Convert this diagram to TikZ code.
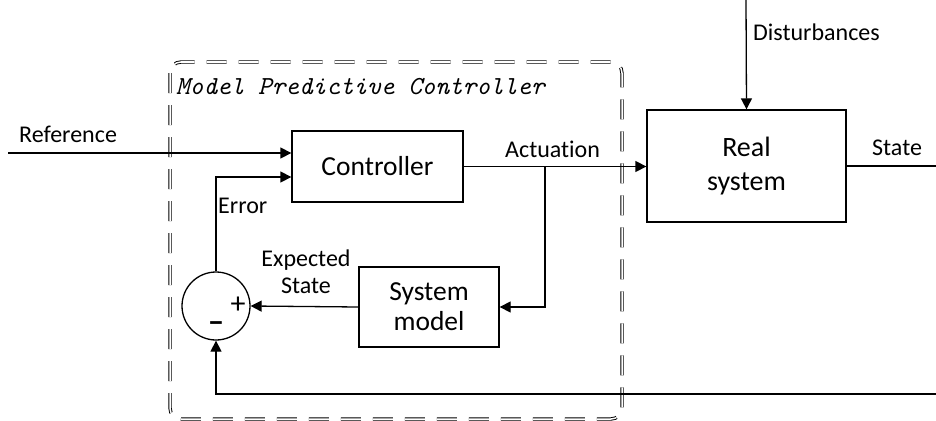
\documentclass[tikz,border=0pt]{standalone}
\usepackage{fontspec}
\setmainfont{Carlito}[Ligatures=NoCommon]
\usetikzlibrary{arrows.meta,calc}

\tikzset{
  wire/.style={line width=1.3pt},
  arr/.style={wire,-{Triangle[length=11pt,width=11pt]}},
  blockbox/.style={draw,line width=1.3pt,inner sep=0pt,align=center,
    font=\fontsize{27.5}{31}\selectfont},
  lbl/.style={inner sep=0pt,font=\fontsize{24}{27}\selectfont},
  mpcbox/.style={draw,double,double distance=1.5pt,line width=0.95pt,
    dash pattern=on 20pt off 12pt,rounded corners=11pt},
}

\begin{document}
\begin{tikzpicture}[x=1pt,y=-1pt]
\useasboundingbox (0,0) rectangle (936,420);

% controller boundary
\draw[mpcbox] (170,62) rectangle (622,419);
\node[anchor=base west,inner sep=0pt,font=\fontsize{26}{30}\selectfont\ttfamily\itshape]
  (mpctitle) at (176,94) {Model Predictive Controller};

% blocks
\node[blockbox,minimum width=171pt,minimum height=71pt] (ctrl) at (377.5,166.5) {Controller};
\node[blockbox,minimum width=140pt,minimum height=80pt,
      font=\fontsize{27.5}{30}\selectfont] (model) at (429,307) {System\\model};
\node[blockbox,minimum width=199pt,minimum height=112pt,
      font=\fontsize{28}{34}\selectfont] (real) at (746.5,166) {Real\\system};
\node[draw,circle,line width=1.3pt,minimum size=68pt,inner sep=0pt] (sum) at (216,306) {};
\node[inner sep=0pt,font=\fontsize{30}{30}\selectfont] (plus) at (238,305) {+};
\node[inner sep=0pt,font=\fontsize{30}{30}\selectfont\bfseries] (minus) at (216,327) {−};

% free ends
\coordinate (refin) at (8,153);
\coordinate (dist) at (746,0);
\coordinate (stout) at (936,163);
\coordinate (fb) at (936,394);
\coordinate (br) at (545,167);

% connectors
\draw[arr] (refin) -- (refin -| ctrl.west);
\draw[arr] (sum.north) |- ($(ctrl.west)+(0,10.5)$);
\draw[arr] (ctrl.east) -- (ctrl.east -| real.west);
\draw[arr] (br) |- (model.east);
\draw[arr] (model.west) -- (sum.east);
\draw[arr] (dist) -- (real.north);
\draw[wire] (real.east) -- (real.east -| stout);
\draw[arr] (fb) -| (sum.south);

% labels
\node[lbl,anchor=base west] (reflbl) at (19,142) {Reference};
\node[lbl,anchor=base west] (errlbl) at (218,213) {Error};
\node[lbl,anchor=base west] (actlbl) at (505,157) {Actuation};
\node[lbl,anchor=base west] (distlbl) at (753,41) {Disturbances};
\node[lbl,anchor=base west] (statelbl) at (872,155) {State};
\node[lbl,align=center] (explbl) at (306,272) {Expected\\State};
\end{tikzpicture}
\end{document}
